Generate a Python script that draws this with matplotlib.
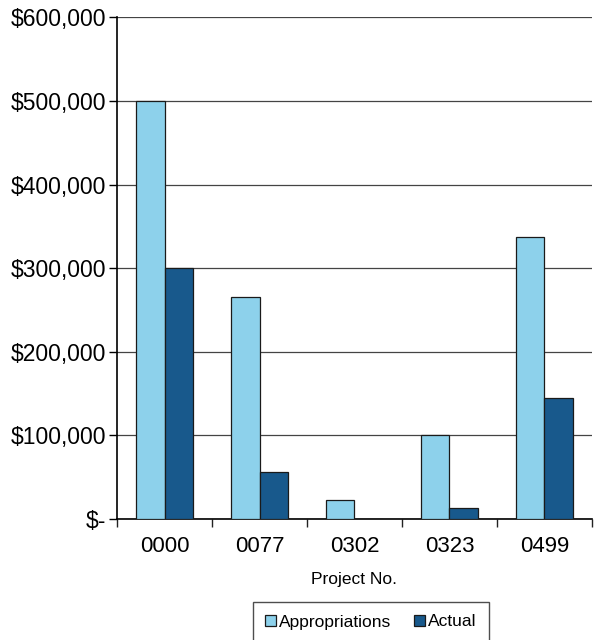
import matplotlib.pyplot as plt
import numpy as np
from matplotlib.ticker import FuncFormatter

plt.rcParams["font.family"] = ["Liberation Sans", "DejaVu Sans"]

# Data
projects = ["0000", "0077", "0302", "0323", "0499"]
appropriations = [500000, 265000, 23000, 100000, 337000]
actual = [300000, 56000, 0, 13000, 145000]


def money(v, pos):
    if v == 0:
        return "$-"
    return f"${v:,.0f}"


fig = plt.figure(figsize=(5.94, 6.40), dpi=100)
ax = fig.add_axes([0.197, 0.189, 0.7996, 0.784])

x = np.arange(len(projects))
width = 0.295

ax.bar(x - width / 2, appropriations, width, label="Appropriations",
       color="#8dd1eb", edgecolor="#1a1a1a", linewidth=0.9, zorder=3)
ax.bar(x + width / 2, actual, width, label="Actual",
       color="#18598c", edgecolor="#1a1a1a", linewidth=0.9, zorder=3)

# Axes styling
ax.set_xlim(-0.5, len(projects) - 0.5)
ax.set_ylim(0, 600000)
ax.set_yticks(np.arange(0, 600001, 100000))
ax.yaxis.set_major_formatter(FuncFormatter(money))
ax.grid(axis="y", color="#444444", linewidth=0.9, zorder=0)

ax.set_xticks(x)
ax.set_xticklabels(projects)
ax.set_xticks(np.arange(-0.5, len(projects)), minor=True)
ax.tick_params(axis="x", which="major", length=0, pad=12, labelsize=16)
ax.tick_params(axis="x", which="minor", length=6, width=1, color="#222222")
ax.tick_params(axis="y", length=6, width=1, pad=2, labelsize=16.5)

for side in ["top", "right"]:
    ax.spines[side].set_visible(False)
ax.spines["left"].set_linewidth(1.2)
ax.spines["bottom"].set_linewidth(1.2)

ax.set_xlabel("Project No.", fontsize=12.5, labelpad=11)

fig.legend(loc="center", bbox_to_anchor=(371 / 594, 1 - 622 / 640), ncol=2,
           frameon=True, fancybox=False, edgecolor="#222222", fontsize=12.5,
           handlelength=0.6, handleheight=0.6, handletextpad=0.2,
           columnspacing=1.3, borderpad=0.7)

plt.savefig("out.png", dpi=100)
